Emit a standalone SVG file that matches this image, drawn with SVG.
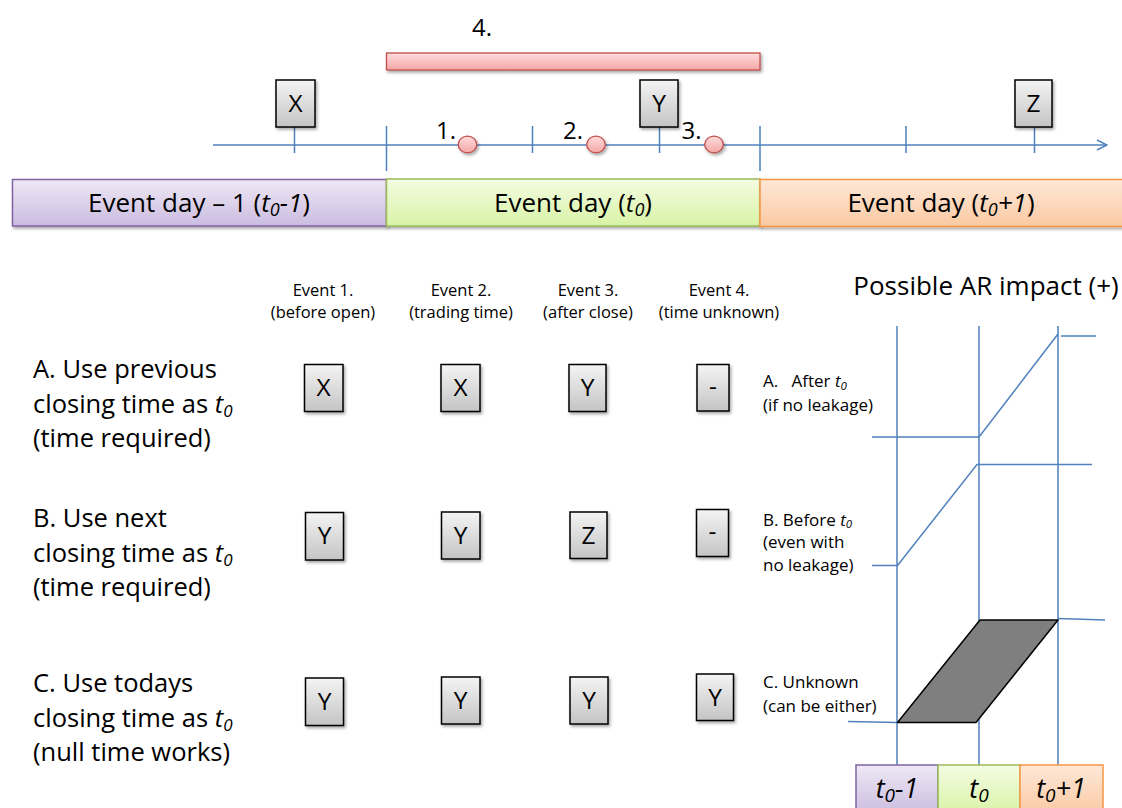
<svg xmlns="http://www.w3.org/2000/svg" width="1122" height="808" viewBox="0 0 1122 808">
  <defs>
    <linearGradient id="gGray" x1="0" y1="0" x2="0" y2="1">
      <stop offset="0" stop-color="#f4f4f4"/>
      <stop offset="1" stop-color="#c4c4c4"/>
    </linearGradient>
    <linearGradient id="gPink" x1="0" y1="0" x2="0" y2="1">
      <stop offset="0" stop-color="#ffdcdc"/>
      <stop offset="1" stop-color="#f4a6a6"/>
    </linearGradient>
    <linearGradient id="gPurple" x1="0" y1="0" x2="0" y2="1">
      <stop offset="0" stop-color="#eee8f5"/>
      <stop offset="1" stop-color="#cbbce0"/>
    </linearGradient>
    <linearGradient id="gGreen" x1="0" y1="0" x2="0" y2="1">
      <stop offset="0" stop-color="#f4fce2"/>
      <stop offset="1" stop-color="#d8f3a6"/>
    </linearGradient>
    <linearGradient id="gOrange" x1="0" y1="0" x2="0" y2="1">
      <stop offset="0" stop-color="#fee8d8"/>
      <stop offset="1" stop-color="#fbc9a2"/>
    </linearGradient>
    <filter id="shadow" x="-20%" y="-20%" width="150%" height="160%">
      <feDropShadow dx="1.5" dy="2" stdDeviation="1.5" flood-color="#000" flood-opacity="0.35"/>
    </filter>
    <marker id="arrow" viewBox="0 0 12 12" refX="11" refY="6" markerWidth="12" markerHeight="12" markerUnits="userSpaceOnUse" orient="auto">
      <path d="M1,1 L11,6 L1,11" fill="none" stroke="#4f81bd" stroke-width="1.5"/>
    </marker>
    <style>
      text { font-family: "Open Sans", "Noto Sans", sans-serif; fill: #000; }
      .ax { stroke: #4f81bd; stroke-width: 1.5; fill: none; }
      .box { fill: url(#gGray); stroke: #000; stroke-width: 1.5; filter: url(#shadow); }
      .boxt { font-size: 24.5px; text-anchor: middle; }
      .num { font-size: 24px; text-anchor: middle; }
      .dot { fill: url(#gPink); stroke: #c0504d; stroke-width: 1.3; filter: url(#shadow); }
      .day { font-size: 26px; text-anchor: middle; }
      .hdr { font-size: 16.5px; text-anchor: middle; }
      .row { font-size: 25.5px; }
      .note { font-size: 17px; }
      .it { font-style: italic; }
      .cell { font-size: 27px; font-style: italic; text-anchor: middle; }
    </style>
  </defs>

  <!-- timeline axis and ticks -->
  <g id="connectors">
    <line class="ax" x1="213" y1="145" x2="1107" y2="145" marker-end="url(#arrow)"/>
    <line class="ax" x1="294.5" y1="127" x2="294.5" y2="153"/>
    <line class="ax" x1="386.5" y1="126" x2="386.5" y2="171"/>
    <line class="ax" x1="532.5" y1="126" x2="532.5" y2="153"/>
    <line class="ax" x1="659.5" y1="127" x2="659.5" y2="153"/>
    <line class="ax" x1="760" y1="126" x2="760" y2="171"/>
    <line class="ax" x1="906" y1="126" x2="906" y2="153"/>
    <line class="ax" x1="1034.5" y1="127" x2="1034.5" y2="153"/>
  </g>

  <!-- event 4 span -->
  <g id="span4">
    <text class="num" x="482" y="36">4.</text>
    <rect x="386.5" y="53" width="373.5" height="17" fill="url(#gPink)" stroke="#c0504d" stroke-width="1.3" filter="url(#shadow)"/>
  </g>

  <!-- closing-time markers on the axis -->
  <g id="mark-x"><rect class="box" x="276" y="80" width="39" height="47"/><text class="boxt" x="295.5" y="112">X</text></g>
  <g id="mark-y"><rect class="box" x="640" y="80" width="38" height="47"/><text class="boxt" x="659" y="112">Y</text></g>
  <g id="mark-z"><rect class="box" x="1015" y="80" width="37" height="47"/><text class="boxt" x="1033.5" y="112">Z</text></g>

  <!-- event points -->
  <g id="event1"><ellipse class="dot" cx="467.5" cy="144.5" rx="9.3" ry="8.3"/><text class="num" x="446" y="139">1.</text></g>
  <g id="event2"><ellipse class="dot" cx="596" cy="144.5" rx="9.3" ry="8.3"/><text class="num" x="573" y="139">2.</text></g>
  <g id="event3"><ellipse class="dot" cx="714" cy="144.5" rx="9.3" ry="8.3"/><text class="num" x="691.5" y="139">3.</text></g>

  <!-- day bands -->
  <g id="day-prev">
    <rect x="12.5" y="179.5" width="374" height="46.5" fill="url(#gPurple)" stroke="#8064a2" stroke-width="1.5" filter="url(#shadow)"/>
    <text class="day" x="199" y="212">Event day – 1 (<tspan class="it">t</tspan><tspan class="it" font-size="18" dy="4">0</tspan><tspan class="it" dy="-4">-1</tspan>)</text>
  </g>
  <g id="day-event">
    <rect x="386.5" y="179" width="373.5" height="47" fill="url(#gGreen)" stroke="#9bbb59" stroke-width="1.5" filter="url(#shadow)"/>
    <text class="day" x="573" y="212">Event day (<tspan class="it">t</tspan><tspan class="it" font-size="18" dy="4">0</tspan><tspan dy="-4">)</tspan></text>
  </g>
  <g id="day-next">
    <rect x="760" y="179.5" width="370" height="47" fill="url(#gOrange)" stroke="#f79646" stroke-width="1.5" filter="url(#shadow)"/>
    <text class="day" x="941" y="212">Event day (<tspan class="it">t</tspan><tspan class="it" font-size="18" dy="4">0</tspan><tspan class="it" dy="-4">+1</tspan>)</text>
  </g>

  <!-- column headers -->
  <g id="headers">
    <text class="hdr" x="323" y="296">Event 1.</text>
    <text class="hdr" x="323" y="318">(before open)</text>
    <text class="hdr" x="461" y="296">Event 2.</text>
    <text class="hdr" x="461" y="318">(trading time)</text>
    <text class="hdr" x="588" y="296">Event 3.</text>
    <text class="hdr" x="588" y="318">(after close)</text>
    <text class="hdr" x="719" y="296">Event 4.</text>
    <text class="hdr" x="719" y="318">(time unknown)</text>
    <text x="986" y="295" font-size="26" text-anchor="middle">Possible AR impact (+)</text>
  </g>

  <!-- row A -->
  <g id="row-a">
    <text class="row" x="33" y="378">A. Use previous</text>
    <text class="row" x="33" y="412.5">closing time as <tspan class="it">t</tspan><tspan class="it" font-size="17" dy="4">0</tspan></text>
    <text class="row" x="33" y="447">(time required)</text>
    <rect class="box" x="304.5" y="364.5" width="38.5" height="47"/><text class="boxt" x="323.5" y="396">X</text>
    <rect class="box" x="441" y="364.5" width="39" height="47"/><text class="boxt" x="460.5" y="396">X</text>
    <rect class="box" x="569" y="364.5" width="37" height="47"/><text class="boxt" x="587.5" y="396">Y</text>
    <rect class="box" x="697" y="364.5" width="32" height="46.5"/><text class="boxt" x="713" y="395">-</text>
    <text class="note" x="763" y="387">A.&#160;&#160;&#160;After <tspan class="it">t</tspan><tspan class="it" font-size="11.5" dy="2.5">0</tspan></text>
    <text class="note" x="763" y="410.5">(if no leakage)</text>
  </g>

  <!-- row B -->
  <g id="row-b">
    <text class="row" x="33" y="527">B. Use next</text>
    <text class="row" x="33" y="561.5">closing time as <tspan class="it">t</tspan><tspan class="it" font-size="17" dy="4">0</tspan></text>
    <text class="row" x="33" y="596">(time required)</text>
    <rect class="box" x="305.5" y="512.5" width="38" height="47.5"/><text class="boxt" x="324.5" y="544">Y</text>
    <rect class="box" x="441.5" y="512" width="38.5" height="47"/><text class="boxt" x="460.5" y="543.5">Y</text>
    <rect class="box" x="570" y="512" width="37" height="46.5"/><text class="boxt" x="588.5" y="543.5">Z</text>
    <rect class="box" x="696.5" y="509.5" width="32" height="47"/><text class="boxt" x="712.5" y="540">-</text>
    <text class="note" x="763" y="525.5">B. Before <tspan class="it">t</tspan><tspan class="it" font-size="11.5" dy="2.5">0</tspan></text>
    <text class="note" x="763" y="548">(even with</text>
    <text class="note" x="763" y="570.5">no leakage)</text>
  </g>

  <!-- row C -->
  <g id="row-c">
    <text class="row" x="33" y="692">C. Use todays</text>
    <text class="row" x="33" y="726.5">closing time as <tspan class="it">t</tspan><tspan class="it" font-size="17" dy="4">0</tspan></text>
    <text class="row" x="33" y="761">(null time works)</text>
    <rect class="box" x="305.5" y="678" width="38" height="47.5"/><text class="boxt" x="324.5" y="710">Y</text>
    <rect class="box" x="441.5" y="677" width="38.5" height="47"/><text class="boxt" x="460.5" y="709">Y</text>
    <rect class="box" x="570" y="677" width="38" height="47"/><text class="boxt" x="589" y="709">Y</text>
    <rect class="box" x="696.5" y="674" width="37" height="46.5"/><text class="boxt" x="715" y="705.5">Y</text>
    <text class="note" x="763" y="688">C. Unknown</text>
    <text class="note" x="763" y="711.5">(can be either)</text>
  </g>

  <!-- abnormal-return impact sketch -->
  <g id="impact-chart">
    <line class="ax" x1="897" y1="326" x2="897" y2="765"/>
    <line class="ax" x1="979" y1="326" x2="979" y2="765"/>
    <line class="ax" x1="1058" y1="326" x2="1058" y2="765"/>
    <!-- A: jump after t0 -->
    <polyline class="ax" points="872,437 979,437 1058,334"/>
    <line class="ax" x1="1061" y1="336" x2="1096" y2="336"/>
    <!-- B: jump before t0 -->
    <polyline class="ax" points="872,565.5 897.5,565.5 977,464.5 1092,464.5"/>
    <!-- C: either -->
    <line class="ax" x1="848" y1="721.5" x2="897" y2="722.5"/>
    <line class="ax" x1="1058" y1="618.5" x2="1105" y2="620"/>
    <polygon points="980,620 1058,620 976,722.5 897.5,722.5" fill="#7f7f7f" stroke="#000" stroke-width="1.5" stroke-linejoin="round"/>
  </g>

  <!-- bottom day labels -->
  <g id="chart-days">
    <rect x="856" y="765" width="82" height="50" fill="url(#gPurple)" stroke="#8064a2" stroke-width="1.5"/>
    <text class="cell" x="897" y="798">t<tspan font-size="19" dy="4">0</tspan><tspan dy="-4">-1</tspan></text>
    <rect x="938" y="765" width="82" height="50" fill="url(#gGreen)" stroke="#9bbb59" stroke-width="1.5"/>
    <text class="cell" x="979" y="798">t<tspan font-size="19" dy="4">0</tspan></text>
    <rect x="1020" y="765" width="83" height="50" fill="url(#gOrange)" stroke="#f79646" stroke-width="1.5"/>
    <text class="cell" x="1061" y="798">t<tspan font-size="19" dy="4">0</tspan><tspan dy="-4">+1</tspan></text>
  </g>
</svg>
